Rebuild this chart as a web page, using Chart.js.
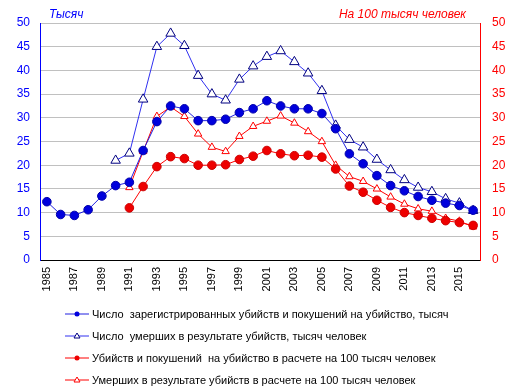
<!DOCTYPE html>
<html>
<head>
<meta charset="utf-8">
<script src="https://cdn.jsdelivr.net/npm/chart.js@4"></script>
<style>
  html, body { margin: 0; padding: 0; background: #fff; }
  #wrap { width: 520px; height: 391px; }
</style>
</head>
<body>
<div id="wrap"><canvas id="chart"></canvas></div>
<script>
const years = [];
for (let y = 1985; y <= 2016; y++) years.push(String(y));

// thousands, left axis
const registered = [12.3, 9.6, 9.4, 10.6, 13.5, 15.7, 16.4, 23.1, 29.2, 32.5, 31.9, 29.4, 29.4, 29.7, 31.1, 31.9,
  33.6, 32.5, 31.9, 31.9, 30.9, 27.7, 22.4, 20.3, 17.8, 15.7, 14.6, 13.4, 12.6, 12.0, 11.5, 10.5];
const deaths = [null, null, null, null, null, 21.0, 22.5, 33.9, 45.0, 47.8, 45.2, 38.9, 35.0, 33.7, 38.1, 40.9,
  42.9, 44.1, 41.8, 39.4, 35.7, 28.4, 25.4, 23.8, 21.2, 19.0, 16.9, 15.3, 14.4, 12.9, 12.0, 10.4];

// per 100 thousand people, right axis
const registeredRate = [null, null, null, null, null, null, 11.0, 15.5, 19.7, 21.8, 21.4, 20.0, 20.0, 20.1, 21.2, 21.9,
  23.1, 22.4, 22.0, 22.1, 21.7, 19.2, 15.6, 14.3, 12.6, 11.1, 10.0, 9.4, 8.8, 8.3, 7.9, 7.3];
const deathsRate = [null, null, null, null, null, null, 15.3, 22.9, 30.3, 32.3, 30.3, 26.6, 23.8, 22.9, 26.1, 28.2,
  29.3, 30.4, 28.9, 27.1, 25.0, 20.0, 17.6, 16.6, 15.0, 13.3, 11.8, 10.8, 10.3, 8.8, 8.2, 7.0];

const seriesNames = [
  'Число  зарегистрированных убийств и покушений на убийство, тысяч',
  'Число  умерших в результате убийств, тысяч человек',
  'Убийств и покушений  на убийство в расчете на 100 тысяч человек',
  'Умерших в результате убийств в расчете на 100 тысяч человек'
];

const BLUE = '#0000ff';
const RED = '#ff0000';
const FONT = 'Arial, "Liberation Sans", sans-serif';

// axis titles and legend drawn by hand
const extras = {
  id: 'extras',
  afterDraw(chart) {
    const ctx = chart.ctx;
    ctx.save();
    ctx.font = 'italic 12px ' + FONT;
    ctx.textBaseline = 'middle';
    ctx.fillStyle = BLUE;
    ctx.textAlign = 'left';
    ctx.fillText('Тысяч', 49, 15);
    ctx.fillStyle = RED;
    ctx.textAlign = 'right';
    ctx.fillText('На 100 тысяч человек', 466, 15);

    ctx.font = '11px ' + FONT;
    ctx.textAlign = 'left';
    chart.data.datasets.forEach((ds, i) => {
      const y = 314 + i * 22;
      ctx.strokeStyle = ds.borderColor;
      ctx.lineWidth = 1;
      ctx.beginPath();
      ctx.moveTo(65, y);
      ctx.lineTo(89, y);
      ctx.stroke();
      ctx.fillStyle = ds.pointBackgroundColor;
      ctx.strokeStyle = ds.pointBorderColor;
      if (ds.pointStyle === 'triangle') {
        ctx.beginPath();
        ctx.moveTo(77, y - 3);
        ctx.lineTo(80, y + 2);
        ctx.lineTo(74, y + 2);
        ctx.closePath();
        ctx.fill();
        ctx.stroke();
      } else {
        ctx.beginPath();
        ctx.arc(77, y, 2.5, 0, Math.PI * 2);
        ctx.fill();
      }
      ctx.fillStyle = '#000';
      ctx.fillText(ds.label, 92, y + 1);
    });
    ctx.restore();
  }
};

new Chart(document.getElementById('chart'), {
  type: 'line',
  data: {
    labels: years,
    datasets: [
      {
        label: seriesNames[0], data: registered, yAxisID: 'y',
        borderColor: '#2020e0', borderWidth: 1,
        pointStyle: 'circle', pointRadius: 4.3,
        pointBackgroundColor: '#0000dd', pointBorderColor: '#0000aa'
      },
      {
        label: seriesNames[1], data: deaths, yAxisID: 'y',
        borderColor: '#3030f0', borderWidth: 1,
        pointStyle: 'triangle', pointRadius: 5.5, pointBorderWidth: 1,
        pointBackgroundColor: '#ffffff', pointBorderColor: '#000080'
      },
      {
        label: seriesNames[2], data: registeredRate, yAxisID: 'y2',
        borderColor: RED, borderWidth: 1,
        pointStyle: 'circle', pointRadius: 4.3,
        pointBackgroundColor: '#ee0000', pointBorderColor: '#cc0000'
      },
      {
        label: seriesNames[3], data: deathsRate, yAxisID: 'y2',
        borderColor: RED, borderWidth: 1,
        pointStyle: 'triangle', pointRadius: 4.3, pointBorderWidth: 1,
        pointBackgroundColor: '#ffffff', pointBorderColor: RED
      }
    ]
  },
  options: {
    responsive: true,
    maintainAspectRatio: false,
    animation: false,
    layout: { padding: { top: 23, bottom: 91, left: 0, right: 0 } },
    plugins: { legend: { display: false }, tooltip: { enabled: false } },
    scales: {
      x: {
        offset: true,
        grid: { display: false, drawTicks: false },
        border: { color: '#000000' },
        ticks: {
          autoSkip: false, maxRotation: 90, minRotation: 90, padding: 7,
          color: '#000', font: { family: FONT, size: 11 },
          callback: (v, i) => (i % 2 === 0 ? years[i] : '')
        },
        afterFit: s => { s.height = 40; }
      },
      y: {
        position: 'left', min: 0, max: 50,
        grid: { color: '#c0c0c0', drawTicks: false },
        border: { color: BLUE },
        ticks: { stepSize: 5, padding: 10, color: BLUE, font: { family: FONT, size: 12 } },
        afterFit: s => { s.width = 40; }
      },
      y2: {
        position: 'right', min: 0, max: 50,
        grid: { display: false, drawTicks: false },
        border: { color: RED },
        ticks: { stepSize: 5, padding: 12, color: RED, font: { family: FONT, size: 12 } },
        afterFit: s => { s.width = 40; }
      }
    }
  },
  plugins: [extras]
});
</script>
</body>
</html>
